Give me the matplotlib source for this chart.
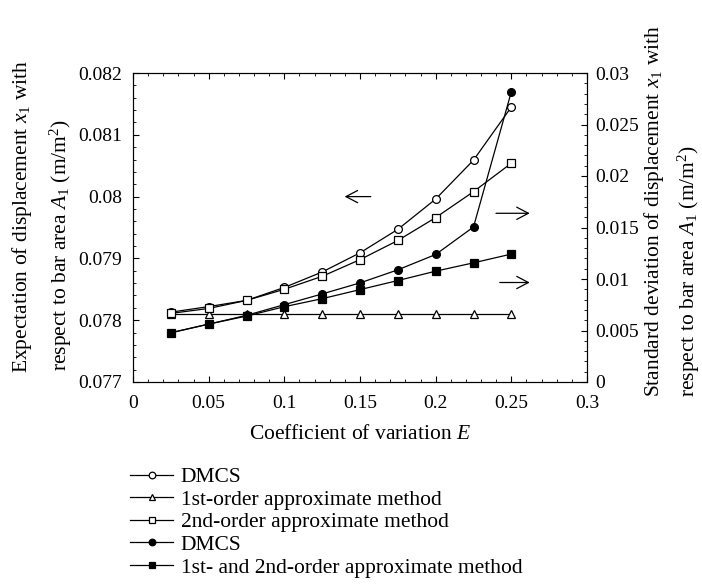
import numpy as np
import matplotlib
matplotlib.use("Agg")
import matplotlib.pyplot as plt
from matplotlib.ticker import MultipleLocator

plt.rcParams['font.family'] = ['Liberation Serif', 'DejaVu Serif']
plt.rcParams['mathtext.fontset'] = 'custom'
plt.rcParams['mathtext.rm'] = 'Liberation Serif'
plt.rcParams['mathtext.it'] = 'Liberation Serif:italic'
plt.rcParams['font.size'] = 15.5

# coefficient of variation
cov = [0.025, 0.05, 0.075, 0.1, 0.125, 0.15, 0.175, 0.2, 0.225, 0.25]

# expectation (left axis)
mean_dmcs = [0.07813, 0.07822, 0.07832, 0.07853, 0.07878, 0.07909, 0.07947, 0.07996, 0.08059, 0.08145]
mean_first = [0.0781] * 10
mean_second = [0.07811, 0.07819, 0.07832, 0.0785, 0.07871, 0.07898, 0.07929, 0.07966, 0.08008, 0.08054]

# standard deviation (right axis)
std_dmcs = [0.00478, 0.00562, 0.00647, 0.00751, 0.00855, 0.00962, 0.01089, 0.01238, 0.01505, 0.02818]
std_approx = [0.00478, 0.00562, 0.0064, 0.00731, 0.00809, 0.00897, 0.00985, 0.01076, 0.01157, 0.01242]

fig = plt.figure(figsize=(7.02, 5.84), dpi=100)
ax = fig.add_axes([133/702, 1-382/584, (587-133)/702, (382-73)/584])
ax2 = ax.twinx()

mk = dict(color='black', lw=0.9, ms=5.6, mew=0.9)
l1, = ax.plot(cov, mean_dmcs, marker='o', mfc='white', **mk)
l2, = ax.plot(cov, mean_first, marker='^', mfc='white', **mk)
l3, = ax.plot(cov, mean_second, marker='s', mfc='white', **dict(mk, ms=5.2))
l4, = ax2.plot(cov, std_dmcs, marker='o', mfc='black', **mk)
l5, = ax2.plot(cov, std_approx, marker='s', mfc='black', **dict(mk, ms=5.2))

ax.set_xlim(0, 0.3)
ax.set_ylim(0.077, 0.082)
ax2.set_ylim(0, 0.03)
ax.xaxis.set_major_locator(MultipleLocator(0.05))
ax.xaxis.set_minor_locator(MultipleLocator(0.01))
ax.yaxis.set_major_locator(MultipleLocator(0.001))
ax.yaxis.set_minor_locator(MultipleLocator(0.0002))
ax2.yaxis.set_major_locator(MultipleLocator(0.005))
ax2.yaxis.set_minor_locator(MultipleLocator(0.001))
fmt = plt.FuncFormatter(lambda v, p: '%g' % round(v, 4))
ax.xaxis.set_major_formatter(fmt)
ax.yaxis.set_major_formatter(fmt)
ax2.yaxis.set_major_formatter(fmt)

ax.tick_params(which='both', direction='in', top=True, labelsize=14)
ax.tick_params(which='major', length=4, width=0.8)
ax.tick_params(which='minor', length=2.5, width=0.6)
ax.tick_params(axis='y', pad=8)
ax.tick_params(axis='x', pad=9)
ax2.tick_params(which='both', direction='in', labelsize=14)
ax2.tick_params(which='major', length=4, width=0.8, pad=6)
ax2.tick_params(which='minor', length=2.5, width=0.6)

ax.set_xlabel('Coefficient of variation $E$', labelpad=10)

# arrows pointing to the relevant axis
arr = dict(arrowstyle='->,head_length=0.42,head_width=0.22', color='black', lw=0.9, mutation_scale=20)
ax.annotate('', xy=(0.138, 0.0800), xytext=(0.159, 0.0800), arrowprops=arr)
ax.annotate('', xy=(0.264, 0.07973), xytext=(0.238, 0.07973), arrowprops=arr)
ax.annotate('', xy=(0.264, 0.07861), xytext=(0.2405, 0.07861), arrowprops=arr)

H = 584
fig.text(22/702, 1-373/H, 'Expectation of displacement $x_1$ with', rotation=90, ha='center', va='bottom')
fig.text(61/702, 1-371/H, 'respect to bar area $A_1$ (m/m$^2$)', rotation=90, ha='center', va='bottom')
fig.text(654/702, 1-397/H, 'Standard deviation of displacement $x_1$ with', rotation=90, ha='center', va='bottom')
fig.text(689/702, 1-397/H, 'respect to bar area $A_1$ (m/m$^2$)', rotation=90, ha='center', va='bottom')

labels = ['DMCS', '1st-order approximate method', '2nd-order approximate method',
          'DMCS', '1st- and 2nd-order approximate method']
fig.legend([l1, l2, l3, l4, l5], labels, loc='upper left',
           bbox_to_anchor=(130/702, 1-467/H), frameon=False,
           handlelength=2.0, handletextpad=0.35, labelspacing=0.12,
           borderpad=0, borderaxespad=0, markerscale=0.85)

fig.savefig('out.png', dpi=100)
